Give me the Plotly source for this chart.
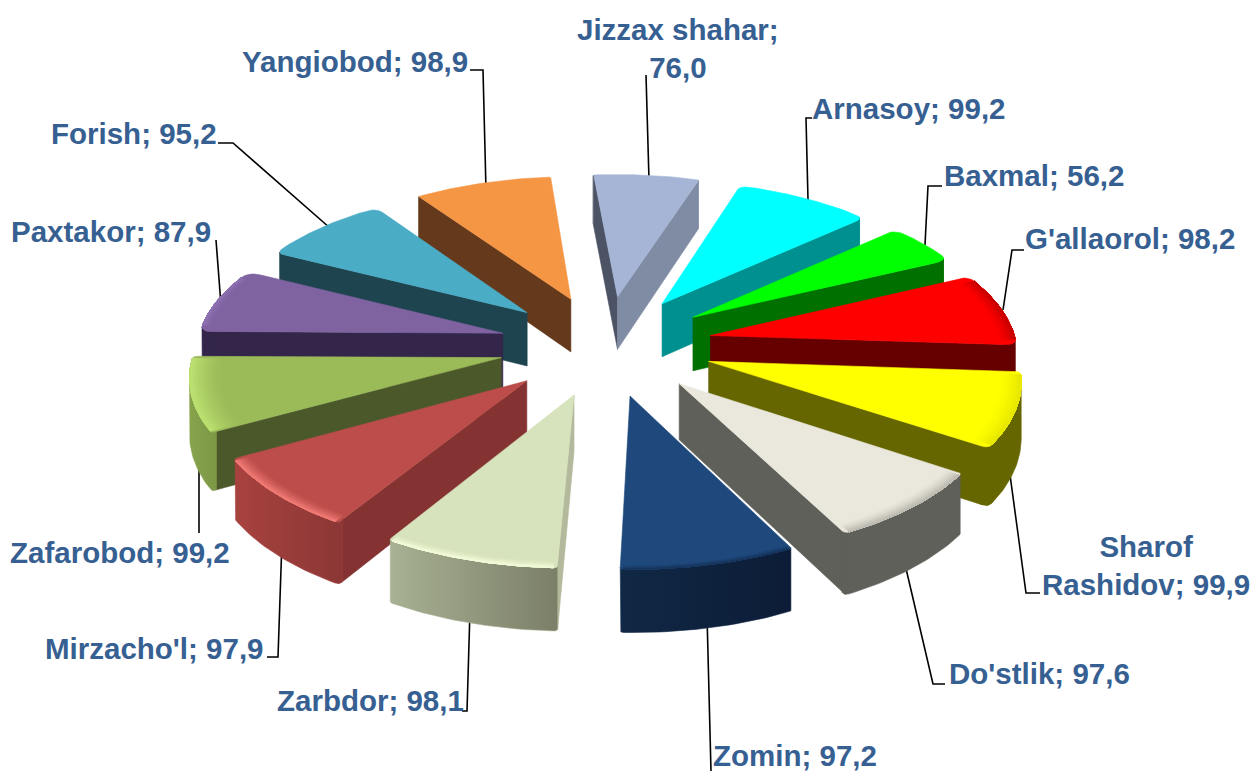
import numpy as np
import plotly.graph_objects as go

names = ["Jizzax shahar", "Arnasoy", "Baxmal", "G'allaorol", "Sharof Rashidov", "Do'stlik",
         "Zomin", "Zarbdor", "Mirzacho'l", "Zafarobod", "Paxtakor", "Forish", "Yangiobod"]
values = [76.0, 99.2, 56.2, 98.2, 99.9, 97.6, 97.2, 98.1, 97.9, 99.2, 87.9, 95.2, 98.9]

top_colors = ["#A6B5D6", "#00FFFF", "#00FF00", "#FF0000", "#FFFF00", "#EAE8DC", "#1F497D",
              "#D7E3BC", "#BC4D4A", "#9BBB59", "#7F63A1", "#4BACC6", "#F59645"]
rim_colors = ["#A6B5D6", "#00FFFF", "#00FF00", "#C80000", "#E8E800", "#BDBBB2", "#17365D",
              "#F2FAD8", "#F07A74", "#BCE070", "#8F72B2", "#4BACC6", "#F59645"]
rim_widths = [0.0, 0.0, 0.0, 0.06, 0.07, 0.05, 0.02, 0.035, 0.05, 0.10, 0.03, 0.0, 0.0]
corner_round = [0.008, 0.04, 0.05, 0.04, 0.025, 0.015, 0.01, 0.012, 0.015, 0.015, 0.05, 0.045, 0.008]
start_wall = ["#4B5364", "#009090", "#007000", "#660000", "#666600", "#5F605A", "#17365D",
              "#B3B99C", "#843332", "#4B582A", "#33264A", "#1E4450", "#653A1C"]
end_wall = ["#808CA4", "#009090", "#007000", "#660000", "#666600", "#5F605A", "#17365D",
            "#B3B99C", "#843332", "#4B582A", "#33264A", "#1E4450", "#653A1C"]
outer_wall = [("#808CA4", "#808CA4"), ("#009090", "#009090"), ("#007000", "#007000"),
              ("#660000", "#660000"), ("#666600", "#666600"), ("#5F605A", "#5F605A"),
              ("#102845", "#0C1C36"), ("#A8B193", "#7B7F68"), ("#A8423F", "#8B3735"),
              ("#87A34C", "#7C9846"), ("#33264A", "#33264A"), ("#1E4450", "#1E4450"),
              ("#653A1C", "#653A1C")]

label_text = ["Jizzax shahar;<br>76,0", "Arnasoy; 99,2", "Baxmal; 56,2", "G'allaorol; 98,2",
              "Sharof<br>Rashidov; 99,9", "Do'stlik; 97,6", "Zomin; 97,2", "Zarbdor; 98,1",
              "Mirzacho'l; 97,9", "Zafarobod; 99,2", "Paxtakor; 87,9", "Forish; 95,2",
              "Yangiobod; 98,9"]

# layout of the labels and their leader lines, in picture pixels
label_xy = [(678, 48), (908, 108), (1034, 175), (1130, 238), (1146, 565), (1039, 673),
            (795, 755), (370, 700), (154, 648), (120, 552), (111, 231), (134, 133), (355, 61)]
leaders = [[(649, 180), (646, 75)], [(808, 200), (806, 118), (812, 118)],
           [(925, 245), (928, 186), (942, 186)], [(1003, 310), (1012, 250), (1024, 250)],
           [(1008, 460), (1026, 593), (1040, 593)], [(904, 560), (933, 684), (945, 684)],
           [(707, 615), (711, 771)], [(470, 610), (467, 711), (462, 711)],
           [(282, 540), (278, 657), (267, 657)], [(199, 445), (199, 533)],
           [(216, 240), (221, 305)], [(218, 143), (233, 143), (330, 228)],
           [(470, 70), (483, 70), (486, 190)]]

# projection
CX, CY = 606, 345
RX, RY = 306, 144
PERSP = 0.103
EXPLODE = 0.35
HEIGHT = 54.6
FIRST_ANGLE = -5.0
N_ROUND = 8


def project(X, Y, Z=0.0):
    s = 1 / (1 - PERSP * Y)
    return CX + RX * X * s, CY + RY * Y * s + HEIGHT * Z * s


def mix(c1, c2, f):
    a = [int(c1[k:k + 2], 16) for k in (1, 3, 5)]
    b = [int(c2[k:k + 2], 16) for k in (1, 3, 5)]
    return "#%02X%02X%02X" % tuple(round(x + (y - x) * f) for x, y in zip(a, b))


shares = np.array(values) / sum(values) * 360
starts = FIRST_ANGLE + np.concatenate([[0], np.cumsum(shares)[:-1]])
fig = go.Figure()


def poly(pts, color, grad=None):
    xs = [p[0] for p in pts] + [pts[0][0]]
    ys = [p[1] for p in pts] + [pts[0][1]]
    kw = dict(fillcolor=color)
    if grad is not None:
        kw = dict(fillgradient=dict(type="horizontal", colorscale=[[0, grad[0]], [1, grad[1]]]))
    fig.add_trace(go.Scatter(x=xs, y=ys, mode="lines", fill="toself",
                             line=dict(width=0.6, color=color),
                             hoverinfo="skip", showlegend=False, **kw))


def bezier(a, c, b, n=N_ROUND):
    return [((1 - t) ** 2 * a[0] + 2 * t * (1 - t) * c[0] + t ** 2 * b[0],
             (1 - t) ** 2 * a[1] + 2 * t * (1 - t) * c[1] + t ** 2 * b[1])
            for t in np.linspace(0, 1, n)]


def slice_geom(i):
    a0 = starts[i]
    a1 = a0 + shares[i]
    mid = np.radians(a0 + shares[i] / 2)
    ox, oy = EXPLODE * np.sin(mid), -EXPLODE * np.cos(mid)
    r = corner_round[i]
    dr = np.degrees(r)
    ang = np.radians(np.linspace(a0 + dr, a1 - dr, 30))
    arc = [(ox + np.sin(t), oy - np.cos(t)) for t in ang]
    c0 = (ox + np.sin(np.radians(a0)), oy - np.cos(np.radians(a0)))
    c1 = (ox + np.sin(np.radians(a1)), oy - np.cos(np.radians(a1)))
    e0 = (ox + (c0[0] - ox) * (1 - r), oy + (c0[1] - oy) * (1 - r))
    e1 = (ox + (c1[0] - ox) * (1 - r), oy + (c1[1] - oy) * (1 - r))
    return (ox, oy), bezier(e0, c0, arc[0]), arc, bezier(arc[-1], c1, e1), mid


# leader lines lie under the slices, so they start at the slices' edges
for path in leaders:
    fig.add_trace(go.Scatter(x=[p[0] for p in path], y=[p[1] for p in path], mode="lines",
                             line=dict(color="#000000", width=1.6),
                             hoverinfo="skip", showlegend=False))

order = sorted(range(len(values)), key=lambda i: -np.cos(slice_geom(i)[4]))
for i in order:
    apex, corner0, arc, corner1, mid = slice_geom(i)
    boundary = corner0 + arc[1:-1] + corner1
    pa, pa_d = project(*apex), project(*apex, 1)
    top = [project(*q) for q in boundary]
    bot = [project(*q, 1) for q in boundary]
    half = N_ROUND // 2
    if top[half][0] < pa[0]:
        poly([pa] + top[:half + 1] + bot[:half + 1][::-1] + [pa_d], start_wall[i])
    if pa[0] < top[-half - 1][0]:
        poly(top[-half - 1:] + [pa, pa_d] + bot[-half - 1:][::-1], end_wall[i])
    # contiguous runs of outer edge that face the viewer
    vis = [j for j in range(len(top) - 1) if top[j + 1][0] < top[j][0]]
    runs = []
    for j in vis:
        if runs and runs[-1][-1] == j - 1:
            runs[-1].append(j)
        else:
            runs.append([j])
    for run in runs:
        j0, j1 = run[0], run[-1] + 1
        pts = top[j0:j1 + 1] + bot[j0:j1 + 1][::-1]
        if j1 < N_ROUND:
            poly(pts, start_wall[i])
        elif j0 >= len(top) - N_ROUND:
            poly(pts, end_wall[i])
        else:
            poly(pts, outer_wall[i][0], grad=outer_wall[i])
    poly([pa] + top, top_colors[i])
    # soft bevelled rim of the top face, faded in several bands
    if rim_widths[i] > 0:
        bands = 14
        for b in range(bands):
            f = 1 - rim_widths[i] * (bands - b) / bands
            inner = [(apex[0] + (q[0] - apex[0]) * f, apex[1] + (q[1] - apex[1]) * f) for q in arc]
            outer = [project(*q) for q in arc]
            poly(outer + [project(*q) for q in inner][::-1],
                 mix(top_colors[i], rim_colors[i], ((b + 1) / bands) ** 1.5))

for txt, (x, y) in zip(label_text, label_xy):
    fig.add_annotation(x=x, y=y, text=txt, showarrow=False, xanchor="center", yanchor="middle",
                       align="center",
                       font=dict(family="Liberation Sans", size=29.5, color="#376092", weight="bold"))

fig.update_xaxes(range=[0, 1251], visible=False, fixedrange=True)
fig.update_yaxes(range=[771, 0], visible=False, fixedrange=True)
fig.update_layout(width=1251, height=771, margin=dict(l=0, r=0, t=0, b=0),
                  paper_bgcolor="#FFFFFF", plot_bgcolor="#FFFFFF", showlegend=False)
fig.write_html("out.html", config=dict(displayModeBar=False),
               post_script="document.body.style.margin='0';document.body.style.overflow='hidden';")
